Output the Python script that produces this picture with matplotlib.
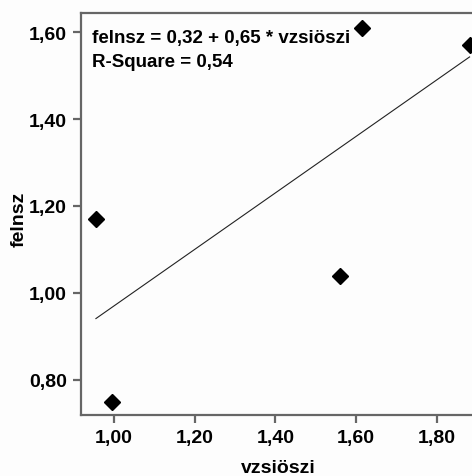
import matplotlib.pyplot as plt
import numpy as np
from matplotlib.ticker import FuncFormatter

# data
vzsioszi = [0.955, 0.995, 1.561, 1.614, 1.882]
felnsz = [1.17, 0.748, 1.038, 1.609, 1.571]
intercept = 0.32
slope = 0.65
r_square = 0.54

xticks = [1.00, 1.20, 1.40, 1.60, 1.80]
yticks = [0.80, 1.00, 1.20, 1.40, 1.60]

fam = ['Liberation Sans Narrow', 'Liberation Sans', 'DejaVu Sans']
plt.rcParams['font.family'] = fam
plt.rcParams['font.weight'] = 'bold'

fig = plt.figure(figsize=(4.72, 4.77), dpi=100)
fig.patch.set_facecolor('#fdfdfd')
ax = fig.add_axes([0.1716, 0.1279, 0.8284, 0.8428])
ax.set_facecolor('#fdfdfd')

# fit line over the x range
xl = np.array([min(vzsioszi), max(vzsioszi)])
ax.plot(xl, intercept + slope * xl, color='#222222', lw=0.8)
ax.plot(vzsioszi, felnsz, 'D', color='black', markersize=8.5, clip_on=False)

ax.set_xlim(0.918, 1.888)
ax.set_ylim(0.7187, 1.6445)
ax.set_xticks(xticks)
ax.set_yticks(yticks)
fmt = FuncFormatter(lambda v, p: ('%.2f' % v).replace('.', ','))
ax.xaxis.set_major_formatter(fmt)
ax.yaxis.set_major_formatter(fmt)

for s in ['left', 'top', 'bottom']:
    ax.spines[s].set_color('#666666')
    ax.spines[s].set_linewidth(1.6)
ax.spines['right'].set_visible(False)
ax.tick_params(direction='out', length=6, width=1.6, color='#666666',
               labelsize=14, pad=4)

ax.set_xlabel('vzsiöszi', fontsize=14, fontweight='bold')
ax.set_ylabel('felnsz', fontsize=14, fontweight='bold')
ax.xaxis.set_label_coords(0.505, -0.11)
ax.yaxis.set_label_coords(-0.137, 0.49)

txt = 'felnsz = %s + %s * vzsiöszi\nR-Square = %s' % (
    ('%.2f' % intercept).replace('.', ','),
    ('%.2f' % slope).replace('.', ','),
    ('%.2f' % r_square).replace('.', ','))
ax.text(0.028, 0.96, txt, transform=ax.transAxes, ha='left', va='top',
        fontsize=13.5, fontweight='bold', linespacing=1.5)

fig.savefig('out.png', dpi=100, facecolor=fig.get_facecolor())
